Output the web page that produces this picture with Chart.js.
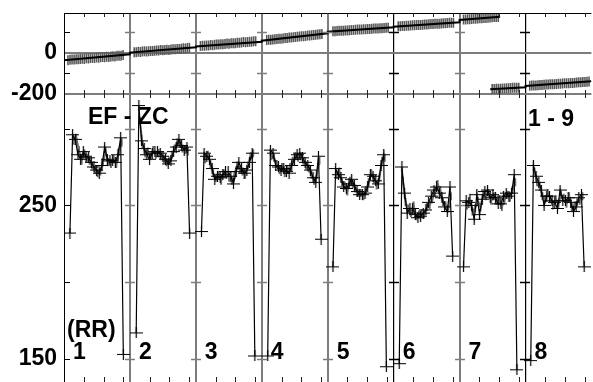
<!DOCTYPE html>
<html>
<head>
<meta charset="utf-8">
<script src="https://cdn.jsdelivr.net/npm/chart.js@4/dist/chart.umd.min.js"></script>
<style>
  html, body { margin: 0; padding: 0; background: #fff; overflow: hidden; }
  #wrap { position: relative; width: 598px; height: 390px; }
</style>
</head>
<body>
<div id="wrap"><canvas id="rr"></canvas></div>
<script>
// --- data (time in s, 10 s per record segment) ---
const segStart = [0, 10, 20, 30, 40, 50, 60, 70];
const segLabels = ['1', '2', '3', '4', '5', '6', '7', '8'];
const minorOffsets = [3, 6, 9];

// top panel: drift values
const trendX = [0, 10, 10, 20, 20, 30, 30, 40, 40, 50, 50, 60, 60, 66.15, 65.4, 64.65, 70, 70, 80];
const trendY = [-36, -6, 2, 28, 32, 55, 60, 96, 104, 125, 128, 150, 161, 177, null, -177, -167, -161, -138];
const driftStart = [0.6, 10.65, 20.7, 30.75, 40.8, 50.7, 60.6, 64.95, 70.65];
const driftStep = 0.31;
const drift1 = [-35, -33, -32, -32, -30, -31, -29, -28, -29, -26, -27, -25, -24, -25, -22, -23, -21, -20, -21, -18, -19, -17, -16, -17, -14, -13, -13, -10];
const drift2 = [4, 4, 6, 5, 7, 8, 7, 9, 10, 10, 11, 12, 12, 14, 13, 15, 16, 15, 17, 18, 18, 20, 20, 21, 23, 22, 24, 25];
const drift3 = [34, 35, 35, 37, 37, 39, 38, 40, 41, 41, 43, 43, 44, 46, 45, 47, 48, 48, 50, 50, 51, 53, 52, 54, 55, 55, 57, 57];
const drift4 = [63, 64, 65, 66, 67, 68, 70, 70, 71, 73, 73, 75, 76, 77, 78, 79, 80, 82, 82, 83, 85, 85, 87, 88, 89, 90, 91, 93];
const drift5 = [106, 106, 107, 108, 108, 109, 110, 110, 111, 112, 112, 113, 114, 114, 115, 116, 116, 117, 117, 118, 119, 119, 120, 121, 121, 122, 123, 123];
const drift6 = [130, 130, 131, 132, 133, 133, 134, 135, 135, 136, 137, 137, 138, 139, 139, 140, 141, 141, 142, 143, 143, 144, 145, 145, 146, 147, 147, 148];
const drift7a = [163, 163, 164, 165, 166, 167, 167, 168, 169, 170, 171, 171, 172, 173, 174, 175, 175, 176];
const drift7b = [-176, -176, -175, -175, -174, -173, -173, -172, -172, -171, -170, -170, -169, -169];
const drift8 = [-160, -159, -158, -158, -157, -156, -156, -155, -154, -154, -153, -152, -152, -151, -150, -150, -149, -148, -148, -147, -146, -146, -145, -144, -143, -143, -142, -141, -140, -139];

// bottom panel: RR intervals
const rrStart = [0.9, 10.95, 20.85, 30.9, 40.8, 50.85, 60.6, 70.8];
const rrStep = 0.405;
const rr1 = [232, 296, 293, 283, 280, 285, 282, 281, 278, 275, 273, 271, 276, 288, 280, 279, 279, 278, 283, 294, 153];
const rr2 = [167, 315, 292, 287, 283, 280, 284, 285, 285, 284, 282, 280, 277, 279, 285, 288, 293, 289, 286, 288, 232];
const rr3 = [233, 284, 282, 280, 274, 267, 269, 268, 270, 272, 272, 269, 264, 272, 278, 274, 271, 273, 278, 284, 152];
const rr4 = [152, 286, 284, 276, 275, 273, 274, 272, 271, 276, 280, 283, 284, 281, 278, 276, 273, 268, 265, 282, 228];
const rr5 = [210, 274, 270, 268, 262, 261, 264, 267, 263, 259, 257, 257, 258, 262, 270, 269, 266, 264, 276, 283, 145];
const rr6 = [147, 275, 258, 245, 248, 248, 244, 242, 243, 245, 247, 252, 256, 260, 262, 258, 255, 249, 246, 262, 217];
const rr7 = [210, 253, 252, 250, 241, 257, 244, 254, 259, 260, 255, 257, 255, 251, 251, 256, 258, 256, 258, 270, 143];
const rr8 = [149, 276, 269, 265, 260, 250, 256, 256, 253, 252, 248, 260, 253, 253, 255, 252, 246, 249, 255, 257, 210];
const rrRaw1 = [292, 294, 286, 279, 284, 281, 279, 276, 273, 271, 272, 278, 285, 278, 277, 280, 277, 285, 291];
const rrRaw2 = [305, 290, 284, 285, 282, 286, 283, 284, 282, 280, 278, 279, 283, 287, 291, 290, 287, 286, 285];
const rrRaw3 = [280, 283, 277, 271, 268, 270, 266, 271, 270, 268, 266, 270, 276, 273, 272, 270, 276, 282, 284];
const rrRaw4 = [282, 281, 277, 273, 275, 271, 273, 275, 279, 282, 281, 282, 279, 276, 274, 270, 266, 270, 279];
const rrRaw5 = [270, 272, 265, 263, 259, 266, 264, 261, 258, 258, 256, 260, 265, 271, 267, 263, 268, 279, 281];
const rrRaw6 = [266, 252, 248, 245, 250, 243, 244, 245, 244, 249, 250, 254, 258, 264, 260, 252, 250, 248, 256];
const rrRaw7 = [250, 255, 246, 248, 253, 249, 257, 256, 258, 253, 256, 253, 254, 249, 254, 257, 255, 260, 265];
const rrRaw8 = [272, 265, 262, 256, 254, 258, 254, 250, 254, 251, 257, 255, 251, 256, 249, 250, 252, 253, 256];

const topTicks = [-200, -100, 0, 100];
const topLabels = [0, -200];
const botTicks = [150, 200, 250, 300];
const botLabels = [250, 150];

// --- build points ---
function runPoints(start, step, values) {
  return values.map((v, i) => ({x: start + i * step, y: v}));
}
function joinRuns(starts, step, runs, shift) {
  let pts = [];
  runs.forEach((r, k) => {
    pts = pts.concat(runPoints(starts[k] + shift, step, r));
    pts.push({x: starts[k] + shift, y: null});
  });
  return pts;
}

const driftPts = joinRuns(driftStart, driftStep, [drift1, drift2, drift3, drift4, drift5, drift6, drift7a, drift7b, drift8], 0);
const trendPts = trendX.map((x, i) => ({x: x, y: trendY[i]}));
const rrPts = joinRuns(rrStart, rrStep, [rr1, rr2, rr3, rr4, rr5, rr6, rr7, rr8], 0);
const rrRawPts = joinRuns(rrStart, rrStep, [rrRaw1, rrRaw2, rrRaw3, rrRaw4, rrRaw5, rrRaw6, rrRaw7, rrRaw8], rrStep + 0.15);

// --- styles ---
const FONT = 'Arial, "Liberation Sans", sans-serif';
const GRAY = '#7d7d7d';
const segLineColor = ['rgba(0,0,0,0)', GRAY, GRAY, GRAY, GRAY, '#000', GRAY, '#000', 'rgba(0,0,0,0)'];

function plusMark(w, h) {
  const c = document.createElement('canvas');
  c.width = w; c.height = h;
  const g = c.getContext('2d');
  g.strokeStyle = '#000';
  g.lineWidth = 1.2;
  g.beginPath();
  g.moveTo(0, Math.floor(h / 2) + 0.5); g.lineTo(w, Math.floor(h / 2) + 0.5);
  g.moveTo(Math.floor(w / 2) + 0.5, 0); g.lineTo(Math.floor(w / 2) + 0.5, h);
  g.stroke();
  return c;
}

function fixAxis(scale) {
  scale.width = 64;
  scale.paddingTop = 0;
  scale.paddingBottom = 0;
}

// ticks, frame and text labels
const framePlugin = {
  id: 'frame',
  afterDraw(chart) {
    const ctx = chart.ctx;
    const a = chart.chartArea;
    const xs = chart.scales.x, yt = chart.scales.yTop, yb = chart.scales.yBot;
    const seg = (x1, y1, x2, y2) => { ctx.beginPath(); ctx.moveTo(x1, y1); ctx.lineTo(x2, y2); ctx.stroke(); };
    ctx.save();
    ctx.lineWidth = 1;
    ctx.strokeStyle = '#000';
    seg(a.left, a.top + 0.5, a.right, a.top + 0.5);

    ctx.strokeStyle = '#222';
    const yBreak = yt.getPixelForValue(-200);
    segStart.forEach(s => minorOffsets.forEach(o => {
      const px = Math.round(xs.getPixelForValue(s + o)) + 0.5;
      seg(px, a.top, px, a.top + 4);
      seg(px, yBreak - 4, px, yBreak + 4);
      seg(px, a.bottom - 6, px, a.bottom);
    }));

    const ys = topTicks.filter(v => v !== -200 && v !== 0).map(v => yt.getPixelForValue(v))
      .concat(botTicks.map(v => yb.getPixelForValue(v)));
    segStart.forEach((s, k) => {
      const px = Math.round(xs.getPixelForValue(s));
      ctx.strokeStyle = k === 0 ? '#000' : segLineColor[k];
      ctx.lineWidth = k === 0 ? 1 : 1.5;
      ys.forEach(py => {
        py = Math.round(py) + 0.5;
        if (k === 0) seg(px, py, px + 6, py);
        else seg(px - 5, py, px + 5, py);
      });
    });

    ctx.fillStyle = '#000';
    ctx.font = 'bold 23px ' + FONT;
    ctx.textBaseline = 'middle';
    ctx.textAlign = 'left';
    ctx.fillText('EF - ZC', a.left + 24, 118);
    ctx.fillText('1 - 9', 528, 120);
    ctx.fillText('(RR)', a.left + 3, 331);
    segStart.forEach((s, k) => {
      ctx.fillText(segLabels[k], xs.getPixelForValue(s) + 9, 353);
    });
    ctx.restore();
  }
};

new Chart(document.getElementById('rr'), {
  type: 'scatter',
  data: {
    datasets: [
      {
        data: trendPts, yAxisID: 'yTop', showLine: true, spanGaps: false,
        borderColor: '#000', borderWidth: 2, pointRadius: 0
      },
      {
        data: driftPts, yAxisID: 'yTop', showLine: false,
        pointStyle: 'line', rotation: 90, pointRadius: 5,
        borderColor: '#5a5a5a', pointBorderWidth: 1.6
      },
      {
        data: rrPts, yAxisID: 'yBot', showLine: true, spanGaps: false,
        borderColor: '#000', borderWidth: 1.2, pointStyle: plusMark(13, 11), pointRadius: 5
      },
      {
        data: rrRawPts, yAxisID: 'yBot', showLine: true, spanGaps: false,
        borderColor: '#6f6f6f', borderWidth: 2,
        pointStyle: 'line', rotation: 90, pointRadius: 4, pointBorderWidth: 2
      }
    ]
  },
  options: {
    responsive: true,
    maintainAspectRatio: false,
    animation: false,
    devicePixelRatio: 1,
    layout: {padding: {top: 13, left: 0, right: 0, bottom: 7}},
    plugins: {legend: {display: false}, tooltip: {enabled: false}},
    scales: {
      x: {
        type: 'linear', min: 0, max: 80,
        ticks: {display: false},
        border: {display: false},
        afterBuildTicks: s => { s.ticks = segStart.concat([80]).map(v => ({value: v})); },
        afterFit: s => { s.height = 0; s.paddingLeft = 0; s.paddingRight = 0; },
        grid: {
          drawTicks: false,
          color: c => segLineColor[c.index],
          lineWidth: c => (segLineColor[c.index] === '#000' ? 1.2 : 2)
        }
      },
      yTop: {
        type: 'linear', position: 'left', stack: 'panels', stackWeight: 81, weight: 2,
        min: -200, max: 195,
        afterBuildTicks: s => { s.ticks = topTicks.map(v => ({value: v})); },
        afterFit: fixAxis,
        border: {color: '#000', width: 1},
        grid: {
          drawTicks: false, lineWidth: 2,
          color: c => (c.tick && (c.tick.value === 0 || c.tick.value === -200) ? GRAY : 'rgba(0,0,0,0)')
        },
        ticks: {
          autoSkip: false, padding: 7, color: '#000',
          font: {family: FONT, size: 23, weight: 'bold'},
          callback: v => (topLabels.includes(v) ? String(v) : '')
        }
      },
      yBot: {
        type: 'linear', position: 'left', stack: 'panels', stackWeight: 289, weight: 1,
        min: 134.4, max: 322.5,
        afterBuildTicks: s => { s.ticks = botTicks.map(v => ({value: v})); },
        afterFit: fixAxis,
        border: {color: '#000', width: 1},
        grid: {drawTicks: false, color: 'rgba(0,0,0,0)'},
        ticks: {
          autoSkip: false, padding: 7, color: '#000',
          font: {family: FONT, size: 23, weight: 'bold'},
          callback: v => (botLabels.includes(v) ? String(v) : '')
        }
      }
    }
  },
  plugins: [framePlugin]
});
</script>
</body>
</html>
